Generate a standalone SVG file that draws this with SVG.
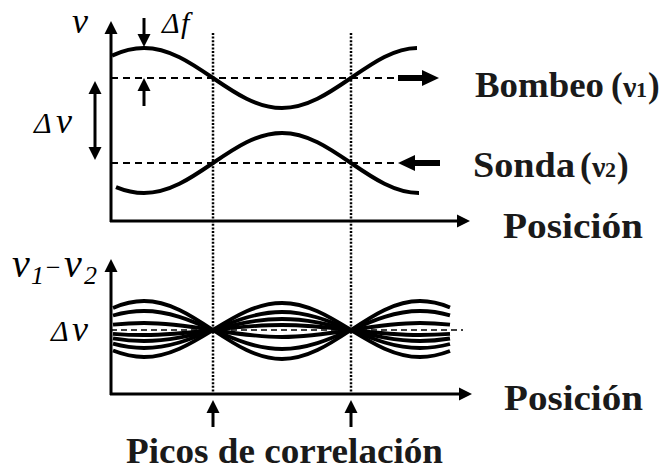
<svg xmlns="http://www.w3.org/2000/svg" width="665" height="472" viewBox="0 0 665 472">
<style>
.ax{stroke:#000;stroke-width:3;fill:none}
.cv{stroke:#000;stroke-width:4;fill:none}
.ln{stroke:#000;stroke-width:3.8;fill:none}
.dash{stroke:#000;stroke-width:2;stroke-dasharray:7 5;fill:none}
.dash2{stroke:#000;stroke-width:1.6;stroke-dasharray:6 4;fill:none}
.dot{stroke:#000;stroke-width:2.5;stroke-dasharray:2 1.6;fill:none}
.thick{stroke:#000;stroke-width:6;fill:none}
.lbl{font-family:"Liberation Serif","Times New Roman",serif;font-weight:bold;font-size:35px;fill:#1a1a1a}
.it{font-family:"Liberation Serif","Times New Roman",serif;font-style:italic;fill:#000}
</style>
<defs>
<marker id="ah" markerUnits="userSpaceOnUse" markerWidth="14" markerHeight="14" refX="0" refY="6.5" orient="auto-start-reverse" overflow="visible">
<path d="M0,0 L13,6.5 L0,13 z" fill="#000"/>
</marker>
<marker id="big" markerUnits="userSpaceOnUse" markerWidth="17" markerHeight="17" refX="0" refY="8" orient="auto" overflow="visible">
<path d="M0,0 L17,8 L0,16 z" fill="#000"/>
</marker>
</defs>

<g id="top-plot">
<path class="cv" d="M112,55.6 C122.7,50.7 133.3,48 144,48 C169,48 190.5,62.6 213,78 C235.5,93.4 257,108 282,108 C307,108 328.5,93.4 351,78 C373.5,62.6 394,48.3 417,48"/>
<path class="cv" d="M116,187.1 C125.3,190.9 134.7,193 144,193 C169,193 190.5,178.4 213,163 C235.5,147.6 257,133 282,133 C307,133 328.5,147.6 351,163 C373.5,178.4 395,193 419,193"/>
</g>

<g id="bottom-plot">
<path class="ln" d="M113,307.9 C123.3,303.5 133.7,301 144,301 C169,301 190.5,315.1 213,330 C235.5,344.9 257,359 282,359 C307,359 328.5,344.9 351,330 C373.5,315.1 395,301 420,301 C430,301 440,303.3 450,307.5"/>
<path class="ln" d="M113,315.5 C123.3,312.6 133.7,311 144,311 C169,311 190.5,320.3 213,330 C235.5,339.7 257,349 282,349 C307,349 328.5,339.7 351,330 C373.5,320.3 395,311 420,311 C430,311 440,312.5 450,315.3"/>
<path class="ln" d="M113,324.7 C123.3,323.6 133.7,323 144,323 C169,323 190.5,326.4 213,330 C235.5,333.6 257,337 282,337 C307,337 328.5,333.6 351,330 C373.5,326.4 395,323 420,323 C430,323 440,323.6 450,324.6"/>
<path class="ln" d="M113,333.8 C123.3,334.6 133.7,335 144,335 C169,335 190.5,332.6 213,330 C235.5,327.4 257,325 282,325 C307,325 328.5,327.4 351,330 C373.5,332.6 395,335 420,335 C430,335 440,334.6 450,333.9"/>
<path class="ln" d="M113,338.4 C123.3,340.1 133.7,341 144,341 C169,341 190.5,335.6 213,330 C235.5,324.4 257,319 282,319 C307,319 328.5,324.4 351,330 C373.5,335.6 395,341 420,341 C430,341 440,340.1 450,338.5"/>
<path class="ln" d="M113,343.7 C123.3,346.5 133.7,348 144,348 C169,348 190.5,339.2 213,330 C235.5,320.8 257,312 282,312 C307,312 328.5,320.8 351,330 C373.5,339.2 395,348 420,348 C430,348 440,346.6 450,344"/>
<path class="ln" d="M113,350.6 C123.3,354.7 133.7,357 144,357 C169,357 190.5,343.8 213,330 C235.5,316.2 257,303 282,303 C307,303 328.5,316.2 351,330 C373.5,343.8 395,357 420,357 C430,357 440,354.8 450,351"/>
</g>

<g id="connectors">
<line class="dash" x1="111" y1="78" x2="396" y2="78"/>
<line class="dash" x1="111" y1="163" x2="396" y2="163"/>
<line class="dash2" x1="111" y1="330" x2="463" y2="330"/>
<line class="dot" x1="213" y1="33" x2="213" y2="394"/>
<line class="dot" x1="351" y1="33" x2="351" y2="394"/>
<line class="ax" x1="111" y1="222" x2="111" y2="34" marker-end="url(#ah)"/>
<line class="ax" x1="110" y1="221" x2="457" y2="221" marker-end="url(#ah)"/>
<line class="ax" x1="111" y1="395" x2="111" y2="272" marker-end="url(#ah)"/>
<line class="ax" x1="110" y1="394" x2="459" y2="394" marker-end="url(#ah)"/>
<line class="ax" x1="144" y1="18" x2="144" y2="34" marker-end="url(#ah)"/>
<line class="ax" x1="144" y1="106" x2="144" y2="91" marker-end="url(#ah)"/>
<line class="ax" x1="95" y1="94" x2="95" y2="147" marker-start="url(#ah)" marker-end="url(#ah)"/>
<line class="ax" x1="213" y1="427" x2="213" y2="413" marker-end="url(#ah)"/>
<line class="ax" x1="351" y1="427" x2="351" y2="413" marker-end="url(#ah)"/>
<line class="thick" x1="398" y1="78" x2="422" y2="78" marker-end="url(#big)"/>
<line class="thick" x1="440" y1="163" x2="415" y2="163" marker-end="url(#big)"/>
</g>

<g id="labels">
<text class="it" x="72" y="33" font-size="36">ν</text>
<text class="it" x="162" y="33" font-size="30">Δ<tspan x="181">f</tspan></text>
<text class="it" x="34" y="133" font-size="30">Δ<tspan x="56" font-size="36">ν</tspan></text>
<text class="it" x="12" y="277" font-size="40">ν<tspan x="31" y="284" font-size="26">1</tspan><tspan x="44" y="276" font-size="26">−</tspan><tspan x="64" y="277">ν</tspan><tspan x="84" y="284" font-size="26">2</tspan></text>
<text class="it" x="51" y="341" font-size="30">Δ<tspan x="72" font-size="36">ν</tspan></text>
<text class="lbl" x="475" y="97"><tspan textLength="129" lengthAdjust="spacingAndGlyphs">Bombeo</tspan><tspan x="611">(</tspan><tspan x="623" font-size="30">ν</tspan><tspan x="636" font-size="22">1</tspan><tspan x="648">)</tspan></text>
<text class="lbl" x="473" y="177"><tspan textLength="102" lengthAdjust="spacingAndGlyphs">Sonda</tspan><tspan x="580">(</tspan><tspan x="592" font-size="30">ν</tspan><tspan x="605" font-size="22">2</tspan><tspan x="617">)</tspan></text>
<text class="lbl" x="503" y="238" textLength="140" lengthAdjust="spacingAndGlyphs">Posición</text>
<text class="lbl" x="504" y="410" textLength="139" lengthAdjust="spacingAndGlyphs">Posición</text>
<text class="lbl" x="126" y="463" font-size="34" textLength="317" lengthAdjust="spacingAndGlyphs">Picos de correlación</text>
</g>
</svg>
